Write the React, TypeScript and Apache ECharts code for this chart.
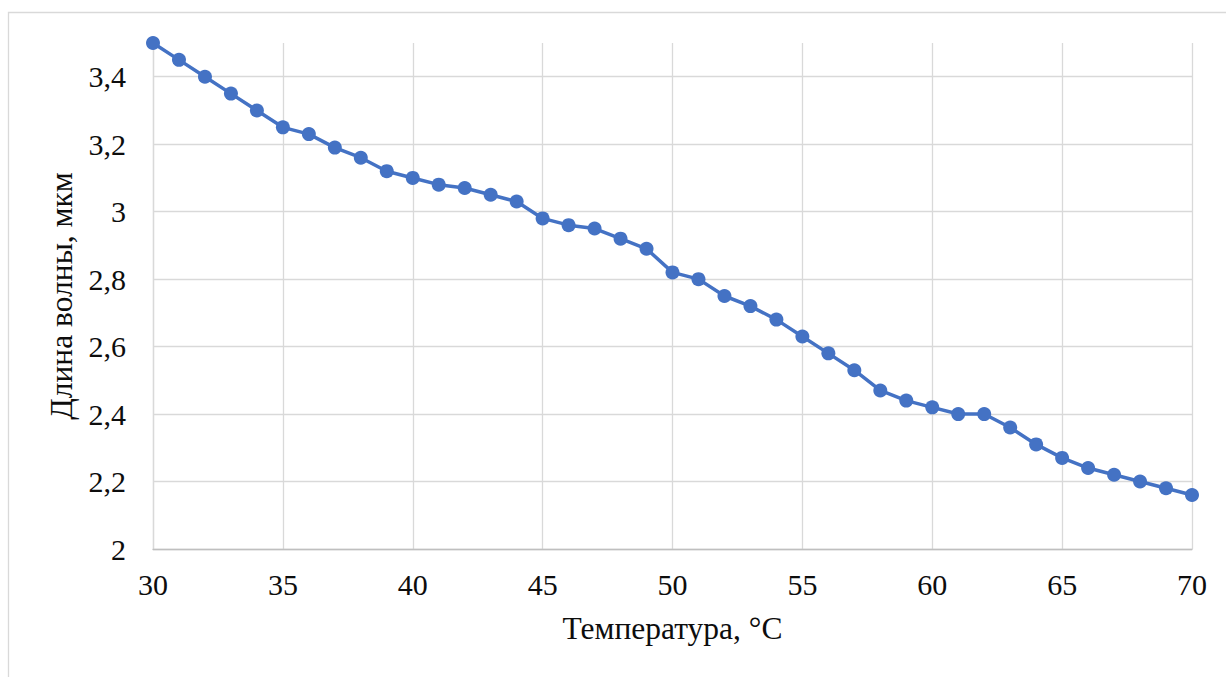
import React, { useEffect, useRef } from "react";
import * as echarts from "echarts";

const temperatures = [30,31,32,33,34,35,36,37,38,39,40,41,42,43,44,45,46,47,48,49,50,51,52,53,54,55,56,57,58,59,60,61,62,63,64,65,66,67,68,69,70];
const wavelengths = [3.5,3.45,3.4,3.35,3.3,3.25,3.23,3.19,3.16,3.12,3.1,3.08,3.07,3.05,3.03,2.98,2.96,2.95,2.92,2.89,2.82,2.8,2.75,2.72,2.68,2.63,2.58,2.53,2.47,2.44,2.42,2.4,2.4,2.36,2.31,2.27,2.24,2.22,2.2,2.18,2.16];
const xTitle = "Температура, °C";
const yTitle = "Длина волны, мкм";

const FONT = "Liberation Serif";

export default function App() {
  const ref = useRef<HTMLDivElement>(null);
  useEffect(() => {
    if (!ref.current) return;
    const chart = echarts.init(ref.current, undefined, { renderer: "svg" });
    const grid = "#d9d9d9";
    const labelStyle = { fontFamily: FONT, fontSize: 30, color: "#0d0d0d" };
    const nameStyle = { fontFamily: FONT, fontSize: 31.5, color: "#0d0d0d" };
    chart.setOption({
      animation: false,
      backgroundColor: "#ffffff",
      textStyle: { fontFamily: FONT },
      graphic: [
        {
          type: "rect",
          shape: { x: 8.5, y: 12.5, width: 1400, height: 900 },
          style: { fill: "none", stroke: "#d9d9d9", lineWidth: 1.3 },
          silent: true,
          z: -10,
        },
      ],
      grid: { left: 153, right: 34, top: 43, bottom: 128 },
      xAxis: {
        type: "value",
        min: 30,
        max: 70,
        interval: 5,
        name: xTitle,
        nameLocation: "middle",
        nameGap: 63,
        nameTextStyle: nameStyle,
        axisLine: { show: true, lineStyle: { color: "#bfbfbf", width: 1.3 } },
        axisTick: { show: false },
        axisLabel: { ...labelStyle, margin: 20 },
        splitLine: { show: true, lineStyle: { color: grid, width: 1.3 } },
      },
      yAxis: {
        type: "value",
        min: 2,
        max: 3.5,
        interval: 0.2,
        name: yTitle,
        nameLocation: "middle",
        nameGap: 76,
        nameRotate: 90,
        nameTextStyle: nameStyle,
        axisLine: { show: true, lineStyle: { color: grid, width: 1.3 } },
        axisTick: { show: false },
        axisLabel: {
          ...labelStyle,
          margin: 27,
          showMaxLabel: false,
          formatter: (v: number) => String(Math.round(v * 10) / 10).replace(".", ","),
        },
        splitLine: {
          show: true,
          lineStyle: {
            color: [grid, grid, grid, grid, grid, grid, grid, grid, "rgba(0,0,0,0)"],
            width: 1.3,
          },
        },
      },
      series: [
        {
          type: "line",
          data: temperatures.map((t, i) => [t, wavelengths[i]]),
          symbol: "circle",
          symbolSize: 14,
          clip: false,
          itemStyle: { color: "#4472c4" },
          lineStyle: { color: "#4472c4", width: 3.5 },
        },
      ],
    });
    return () => chart.dispose();
  }, []);
  return (
    <div
      ref={ref}
      style={{ position: "fixed", left: 0, top: 0, width: 1226, height: 677 }}
    />
  );
}
